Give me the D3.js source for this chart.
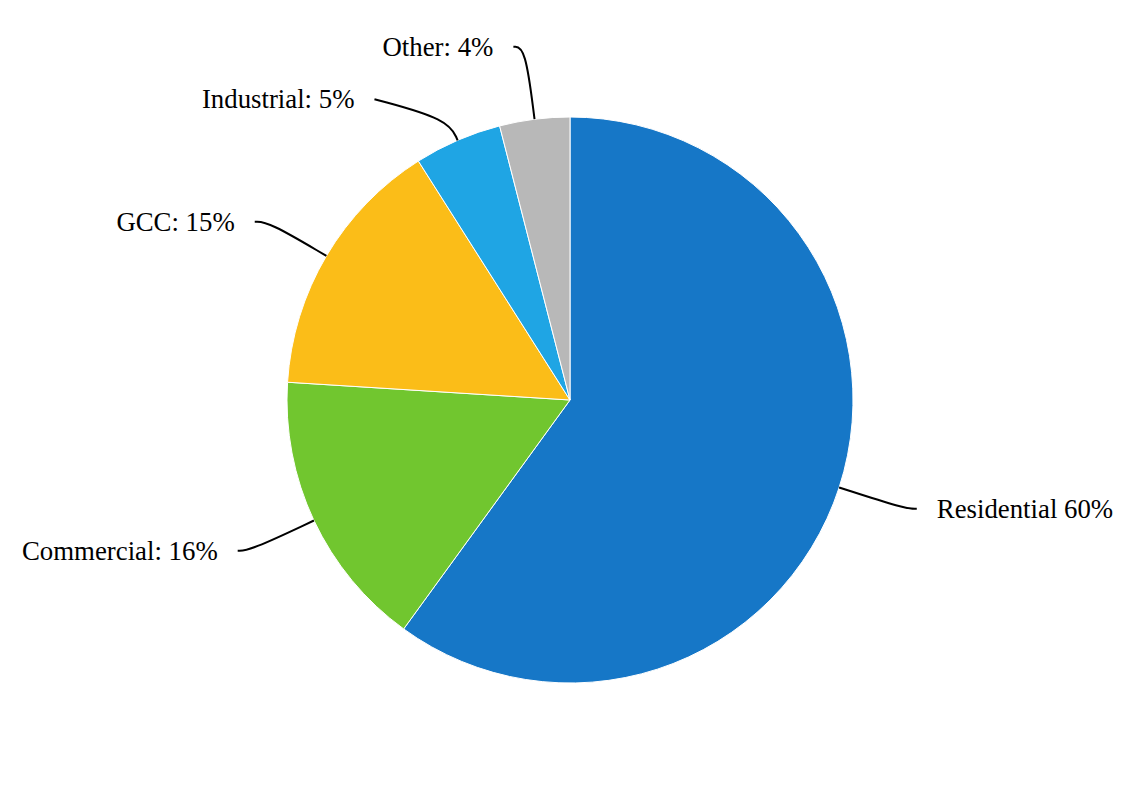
<!DOCTYPE html>
<html>
<head>
<meta charset="utf-8">
<script src="https://cdn.jsdelivr.net/npm/d3@7"></script>
<style>
  html, body { margin: 0; padding: 0; background: #fff; }
  svg { display: block; }
</style>
</head>
<body>
<svg id="chart" width="1140" height="800"></svg>
<script>
// ---- data ----
const categories = ["Residential", "Commercial", "GCC", "Industrial", "Other"];
const values = [60, 16, 15, 5, 4];
const labelTexts = ["Residential 60%", "Commercial: 16%", "GCC: 15%", "Industrial: 5%", "Other: 4%"];
const colors = ["#1677c7", "#71c62f", "#fbbd18", "#1fa5e4", "#b8b8b8"];

// ---- layout (label line geometry) ----
const cx = 570, cy = 400, radius = 283;
const labelLine = {
  Residential: { bend: 352, len2: 12, dy: 0 },
  Commercial:  { bend: 354, len2: 12, dy: 0 },
  GCC:         { bend: 350, len2: 14, dy: 0 },
  Industrial:  { bend: 306, len2: 74, dy: -20 },
  Other:       { bend: 356, len2: 12, dy: 0 }
};
const labelGap = 20;

const svg = d3.select("#chart");
const g = svg.append("g").attr("transform", `translate(${cx},${cy})`);

const data = categories.map((c, i) => ({ name: c, value: values[i], label: labelTexts[i], color: colors[i] }));

const pie = d3.pie().value(d => d.value).sort(null).startAngle(0).endAngle(2 * Math.PI);
const arcs = pie(data);
const arc = d3.arc().innerRadius(0).outerRadius(radius);

g.selectAll("path.slice")
  .data(arcs)
  .join("path")
  .attr("class", "slice")
  .attr("d", arc)
  .attr("fill", d => d.data.color)
  .attr("stroke", "#ffffff")
  .attr("stroke-width", 1);

function polar(r, a) { return [r * Math.sin(a), -r * Math.cos(a)]; }

const line = d3.line().curve(d3.curveBasis);

arcs.forEach(d => {
  const mid = (d.startAngle + d.endAngle) / 2;
  const cfg = labelLine[d.data.name];
  const p1 = polar(radius, mid);
  const p2 = polar(cfg.bend, mid);
  const side = Math.sin(mid) >= 0 ? 1 : -1;
  const p3 = [p2[0] + side * cfg.len2, p2[1] + cfg.dy];

  g.append("path")
    .attr("d", line([p1, p2, p3]))
    .attr("fill", "none")
    .attr("stroke", "#000")
    .attr("stroke-width", 2);

  g.append("text")
    .attr("x", p3[0] + side * labelGap)
    .attr("y", p3[1])
    .attr("dy", "0.33em")
    .attr("text-anchor", side > 0 ? "start" : "end")
    .attr("font-family", "'Liberation Serif', 'Times New Roman', serif")
    .attr("font-size", "26.8px")
    .attr("fill", "#000")
    .text(d.data.label);
});
</script>
</body>
</html>
